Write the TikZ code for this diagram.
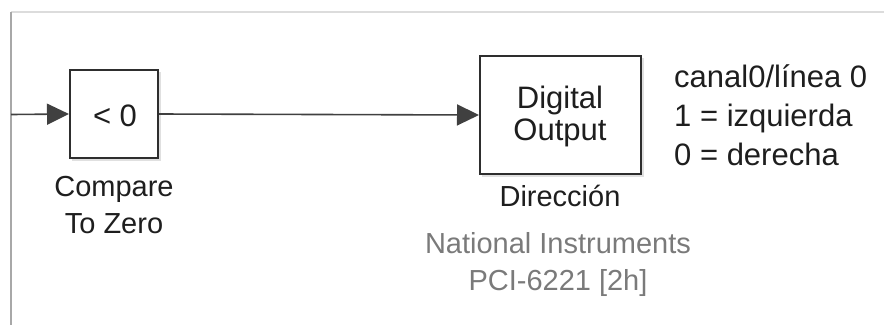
\documentclass[tikz,border=0pt]{standalone}
\usepackage{fontspec}
\setmainfont{Liberation Sans}
\usetikzlibrary{arrows.meta}
\definecolor{txt}{HTML}{1E1E1E}
\definecolor{graytxt}{HTML}{7A7A7A}
\definecolor{boxline}{HTML}{2E2E2E}
\definecolor{wire}{HTML}{404040}
\definecolor{frameL}{HTML}{A8A8A8}
\definecolor{frameT}{HTML}{DCDCDC}
\begin{document}
\begin{tikzpicture}[x=1pt,y=-1pt,
  lbl/.style={font=\fontsize{29}{35}\selectfont, text=txt, inner sep=0pt},
  big/.style={lbl, font=\fontsize{31}{37}\selectfont},
  glbl/.style={lbl, text=graytxt},
  blk/.style={draw=boxline, line width=2pt, fill=white, inner sep=0pt},
  sig/.style={draw=wire, line width=1.6pt, -{Triangle[length=22pt,width=21pt]}},
]
\useasboundingbox (0,0) rectangle (884,325);
% frame
\draw[frameT, line width=2pt] (11,12) -- (884,12);
\draw[frameL, line width=2pt] (11,12) -- (11,325);
% blocks
\fill[black!12] (72,72) rectangle (161,161);
\node[blk, minimum width=88pt, minimum height=88pt] (cmp) at (114,114) {};
\fill[black!12] (482,58) rectangle (644,177);
\node[blk, minimum width=161pt, minimum height=118pt] (dout) at (560.5,115) {};
% block texts
\node[big, anchor=base] (cmpsym) at (115,126) {< 0};
\node[big, anchor=base] (dig) at (560,108) {Digital};
\node[big, anchor=base] (out) at (560,140) {Output};
% block names
\node[lbl, anchor=base] (cmpn1) at (114,196) {Compare};
\node[lbl, anchor=base] (cmpn2) at (114,233) {To Zero};
\node[lbl, anchor=base] (dirn) at (560,206) {Dirección};
\node[glbl, anchor=base] (ni1) at (558,253) {National Instruments};
\node[glbl, anchor=base] (ni2) at (558,290) {PCI-6221 [2h]};
% annotation
\node[big, anchor=base west] (a1) at (674,87) {canal0/línea 0};
\node[big, anchor=base west] (a2) at (674,126) {1 = izquierda};
\node[big, anchor=base west] (a3) at (674,165) {0 = derecha};
% wires
\coordinate (in) at (11,114.5);
\draw[sig] (in) -- (cmp.west);
\draw[sig] (cmp.east) -- (dout.west);
\end{tikzpicture}
\end{document}
